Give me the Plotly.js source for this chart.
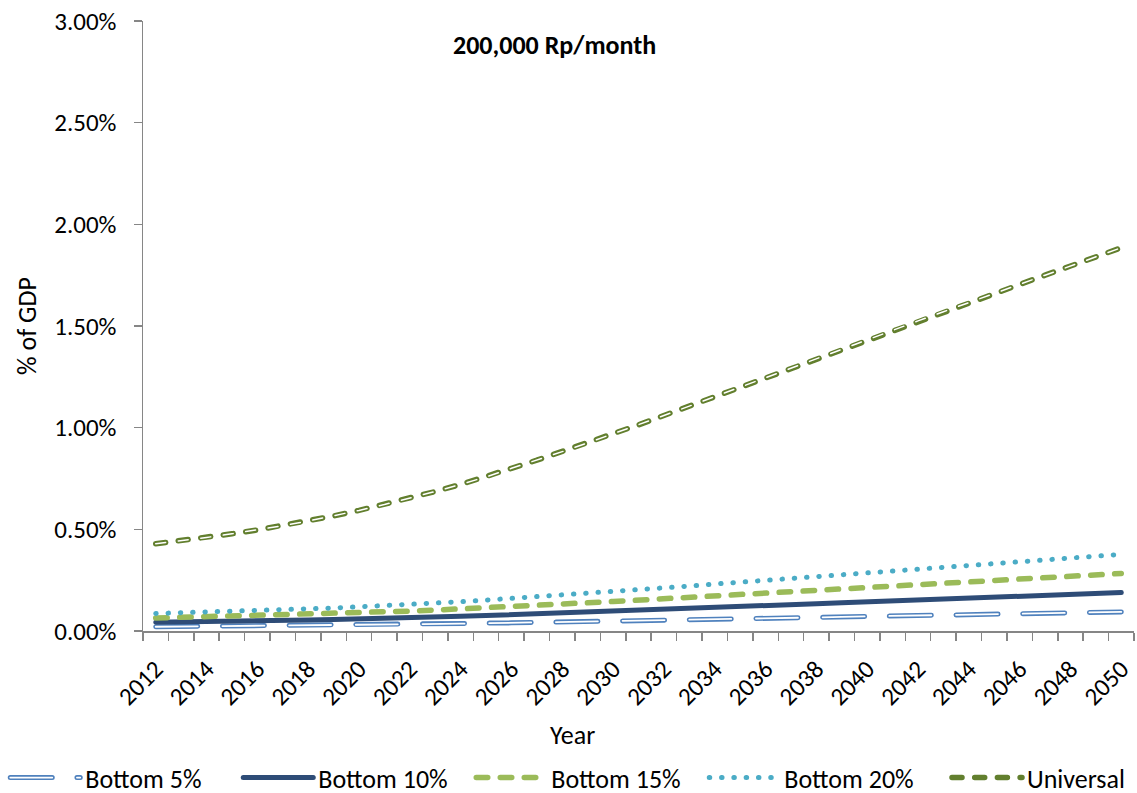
<!DOCTYPE html>
<html>
<head>
<meta charset="utf-8">
<script src="https://cdn.plot.ly/plotly-3.0.1.min.js"></script>
<style>
  html, body { margin: 0; padding: 0; background: #fff; }
  #chart { width: 1137px; height: 793px; }
  /* Office-style rounded line ends for dashes and dots */
  .scatterlayer path.js-line, .legendlines path { stroke-linecap: round !important; }
</style>
</head>
<body>
<div id="chart"></div>
<script>
// Cost of a 200,000 Rp/month benefit, % of GDP, by coverage group
const years = [2012, 2013, 2014, 2015, 2016, 2017, 2018, 2019, 2020, 2021,
               2022, 2023, 2024, 2025, 2026, 2027, 2028, 2029, 2030, 2031,
               2032, 2033, 2034, 2035, 2036, 2037, 2038, 2039, 2040, 2041,
               2042, 2043, 2044, 2045, 2046, 2047, 2048, 2049, 2050];

const bottom5 = [0.021, 0.022, 0.023, 0.024, 0.025, 0.026, 0.027, 0.028, 0.030, 0.031,
                 0.033, 0.034, 0.036, 0.038, 0.040, 0.042, 0.044, 0.046, 0.048, 0.051,
                 0.053, 0.055, 0.058, 0.060, 0.062, 0.065, 0.067, 0.069, 0.072, 0.074,
                 0.076, 0.079, 0.081, 0.083, 0.085, 0.088, 0.090, 0.092, 0.094];

const bottom10 = [0.043, 0.044, 0.046, 0.048, 0.050, 0.052, 0.054, 0.057, 0.059, 0.062,
                  0.065, 0.069, 0.072, 0.076, 0.080, 0.084, 0.088, 0.093, 0.097, 0.101,
                  0.106, 0.111, 0.115, 0.120, 0.125, 0.129, 0.134, 0.139, 0.143, 0.148,
                  0.153, 0.157, 0.161, 0.166, 0.171, 0.175, 0.180, 0.184, 0.189];

const bottom15 = [0.064, 0.067, 0.069, 0.072, 0.075, 0.078, 0.081, 0.085, 0.089, 0.093,
                  0.098, 0.103, 0.108, 0.114, 0.120, 0.126, 0.132, 0.139, 0.145, 0.152,
                  0.159, 0.166, 0.173, 0.180, 0.187, 0.194, 0.201, 0.208, 0.215, 0.222,
                  0.229, 0.236, 0.242, 0.249, 0.256, 0.263, 0.269, 0.276, 0.283];

const bottom20 = [0.086, 0.089, 0.092, 0.096, 0.099, 0.104, 0.108, 0.113, 0.119, 0.124,
                  0.131, 0.137, 0.144, 0.152, 0.160, 0.168, 0.176, 0.185, 0.194, 0.203,
                  0.212, 0.221, 0.231, 0.240, 0.249, 0.259, 0.268, 0.278, 0.287, 0.296,
                  0.305, 0.314, 0.323, 0.332, 0.341, 0.350, 0.359, 0.368, 0.377];

const universal = [0.429, 0.444, 0.460, 0.478, 0.497, 0.518, 0.541, 0.566, 0.593, 0.622,
                   0.653, 0.686, 0.721, 0.758, 0.800, 0.840, 0.882, 0.925, 0.969, 1.014,
                   1.060, 1.106, 1.153, 1.200, 1.247, 1.294, 1.341, 1.388, 1.434, 1.480,
                   1.525, 1.570, 1.614, 1.660, 1.705, 1.750, 1.795, 1.840, 1.885];

const seriesNames = ['Bottom 5%', 'Bottom 10%', 'Bottom 15%', 'Bottom 20%', 'Universal'];
const chartTitle = '200,000 Rp/month';
const xTitle = 'Year';
const yTitle = '% of GDP';

const FONT = 'Carlito, Calibri, Lato, sans-serif';
const AXIS_GREY = '#868686';
const TICK_SIZE = 25;
const TEXT_SIZE = 26;

// Double ("compound") lines are a wide coloured stroke with a thin white stroke on top
const B5_DASH = '42px,24.7px';
const UNI_DASH = '10px,12.7px';

const traces = [
  { x: years, y: bottom5, name: seriesNames[0], mode: 'lines',
    line: { color: '#4F81BD', width: 5, dash: B5_DASH } },
  { x: years, y: bottom5, name: seriesNames[0] + ' inner', mode: 'lines', showlegend: false, hoverinfo: 'skip',
    line: { color: '#ffffff', width: 1.8, dash: B5_DASH } },
  { x: years, y: bottom10, name: seriesNames[1], mode: 'lines',
    line: { color: '#2E4C77', width: 5 } },
  { x: years, y: bottom15, name: seriesNames[2], mode: 'lines',
    line: { color: '#9BBB59', width: 5.5, dash: '11.5px,12.5px' } },
  { x: years, y: bottom20, name: seriesNames[3], mode: 'lines',
    line: { color: '#4BACC6', width: 5, dash: '0.5px,11.8px' } },
  { x: years, y: universal, name: seriesNames[4], mode: 'lines', legend: 'legend2',
    line: { color: '#627F2E', width: 5.5, dash: UNI_DASH } },
  { x: years, y: universal, name: seriesNames[4] + ' inner', mode: 'lines', showlegend: false, hoverinfo: 'skip',
    line: { color: '#ffffff', width: 1.5, dash: UNI_DASH } }
];

const legendStyle = {
  orientation: 'h',
  xanchor: 'left',
  y: -0.202, yanchor: 'top',
  itemwidth: 70,
  entrywidth: 148, entrywidthmode: 'pixels',
  font: { family: FONT, size: TEXT_SIZE, color: '#000' },
  bgcolor: 'rgba(0,0,0,0)'
};

const layout = {
  width: 1137,
  height: 793,
  margin: { l: 143, r: 3, t: 21, b: 162, autoexpand: false },
  paper_bgcolor: '#ffffff',
  plot_bgcolor: '#ffffff',
  font: { family: FONT, size: TEXT_SIZE, color: '#000000' },
  showlegend: true,
  xaxis: {
    range: [2011.5, 2050.5],
    tickmode: 'linear', tick0: 2012, dtick: 2,
    ticks: '', tickangle: -45, ticklabelstandoff: 12,
    tickfont: { family: FONT, size: TICK_SIZE, color: '#000' },
    showline: true, linecolor: AXIS_GREY, linewidth: 1.5,
    showgrid: false, zeroline: false,
    minor: { tick0: 2011.5, dtick: 1, ticks: 'outside', ticklen: 8,
             tickcolor: AXIS_GREY, tickwidth: 1.5, showgrid: false }
  },
  yaxis: {
    range: [0, 3], tickmode: 'linear', tick0: 0, dtick: 0.5,
    tickformat: '.2f', ticksuffix: '%',
    ticks: 'outside', ticklen: 8, tickcolor: AXIS_GREY, tickwidth: 1.5,
    ticklabelstandoff: 12,
    tickfont: { family: FONT, size: TICK_SIZE, color: '#000' },
    showline: true, linecolor: AXIS_GREY, linewidth: 1.5,
    showgrid: false, zeroline: false,
    title: { text: yTitle, font: { family: FONT, size: TEXT_SIZE }, standoff: 10 }
  },
  legend: Object.assign({}, legendStyle, { x: -0.139 }),
  legend2: Object.assign({}, legendStyle, { x: 0.8113 }),
  annotations: [
    { text: '<b>' + chartTitle + '</b>', xref: 'paper', yref: 'paper',
      x: 0.4157, y: 0.9607, xanchor: 'center', yanchor: 'middle', showarrow: false,
      font: { family: FONT, size: TEXT_SIZE, color: '#000' } },
    { text: xTitle, xref: 'paper', yref: 'paper',
      x: 0.4329, y: -0.1705, xanchor: 'center', yanchor: 'middle', showarrow: false,
      font: { family: FONT, size: TEXT_SIZE, color: '#000' } }
  ]
};

Plotly.newPlot('chart', traces, layout, { staticPlot: true }).then(function (gd) {
  // give the double-line legend samples their white core
  const inner = { 'Bottom 5%': 1.8, 'Universal': 1.5 };
  gd.querySelectorAll('.infolayer .traces').forEach(function (item) {
    const label = item.querySelector('.legendtext');
    if (!label || !(label.textContent in inner)) return;
    const path = item.querySelector('.legendlines path');
    if (!path) return;
    const core = path.cloneNode(true);
    core.style.stroke = '#ffffff';
    core.style.strokeWidth = inner[label.textContent] + 'px';
    path.parentNode.appendChild(core);
  });
});
</script>
</body>
</html>
